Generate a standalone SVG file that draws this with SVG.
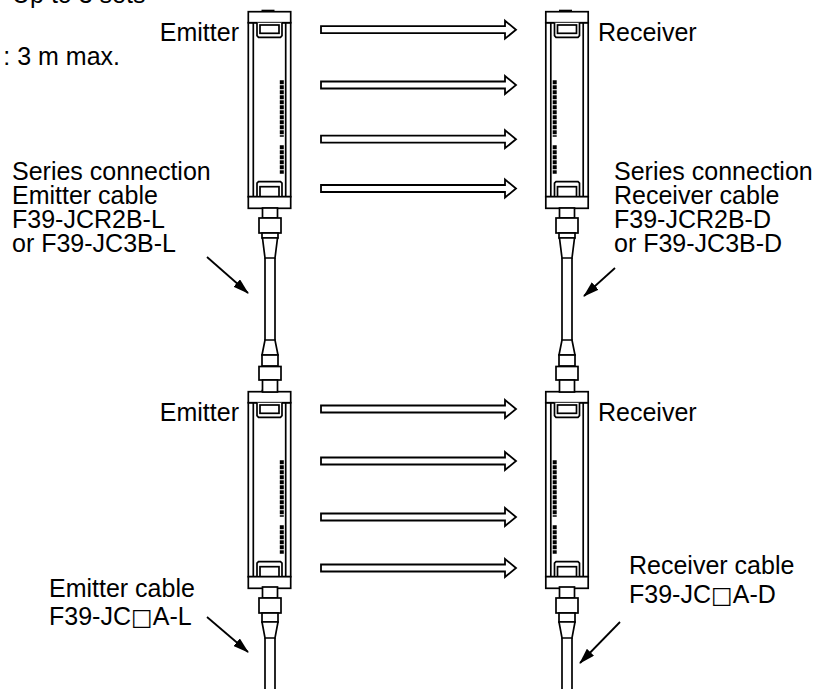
<svg xmlns="http://www.w3.org/2000/svg" width="831" height="689" viewBox="0 0 831 689">
<style>
  .t { font-family: "Liberation Sans", Arial, "DejaVu Sans", sans-serif; font-size: 25px; fill: #000; }
  .sq { font-family: "DejaVu Sans", sans-serif; font-size: 23px; }
  .ln { fill: #fff; stroke: #000; stroke-width: 1.7; stroke-linejoin: miter; }
  .ln0 { fill: none; stroke: #000; stroke-width: 1.7; }
  .beam { fill: #fff; stroke: #000; stroke-width: 1.8; stroke-linejoin: miter; }
  .lead { fill: none; stroke: #000; stroke-width: 1.8; }
  .led { fill: none; stroke: #000; stroke-width: 4; stroke-dasharray: 4 1; }
</style>
<defs>
  <marker id="ah" markerUnits="userSpaceOnUse" viewBox="0 0 16 10" refX="15" refY="5" markerWidth="16" markerHeight="10" orient="auto">
    <path d="M0,0 L16,5 L0,10 z" fill="#000"/>
  </marker>
  <g id="sensor">
    <rect class="ln" x="-21.2" y="11" width="42.4" height="174"/>
    <line class="ln0" x1="-16.2" y1="11" x2="-16.2" y2="185"/>
    <line class="ln0" x1="16.2" y1="11" x2="16.2" y2="185"/>
    <rect class="ln" x="-21.2" y="0" width="42.4" height="11"/>
    <rect x="-8" y="-2" width="13" height="2" fill="#000"/>
    <path class="ln" d="M-12.5,11 V24 L-11,25.6 H11 L12.5,24 V11"/>
    <rect class="ln" x="-9.5" y="13.3" width="19" height="8.3"/>
    <path class="ln" d="M-12.5,185 V171.5 L-11,170 H11 L12.5,171.5 V185"/>
    <rect class="ln" x="-9.5" y="175" width="19" height="10"/>
    <rect class="ln" x="-21.2" y="185" width="42.4" height="11.6"/>
  </g>
  <g id="ledsE">
    <line class="led" x1="12.3" y1="68.5" x2="12.3" y2="125"/>
    <line class="led" x1="12.3" y1="133.5" x2="12.3" y2="162"/>
  </g>
  <g id="ledsR">
    <line class="led" x1="-12.3" y1="68.5" x2="-12.3" y2="125"/>
    <line class="led" x1="-12.3" y1="133.5" x2="-12.3" y2="162"/>
  </g>
  <g id="midcable">
    <rect class="ln" x="-7.5" y="208" width="15" height="10"/>
    <rect class="ln" x="-11" y="218" width="22" height="15"/>
    <rect class="ln" x="-8" y="233" width="16" height="5"/>
    <path class="ln" d="M-7.5,238 H7.5 L5,258 H-5 z"/>
    <line class="ln0" x1="-5" y1="258" x2="-5" y2="340"/>
    <line class="ln0" x1="5" y1="258" x2="5" y2="340"/>
    <path class="ln" d="M-5,340 H5 L8,355 H-8 z"/>
    <rect class="ln" x="-8" y="355" width="16" height="11"/>
    <rect class="ln" x="-11" y="366.5" width="22" height="13.5"/>
    <rect class="ln" x="-7.5" y="380" width="15" height="12"/>
  </g>
  <g id="endcable">
    <rect class="ln" x="-7.5" y="587" width="15" height="11"/>
    <rect class="ln" x="-11" y="598" width="22" height="15"/>
    <rect class="ln" x="-8" y="613" width="16" height="9"/>
    <path class="ln" d="M-8,622 H8 L5,638 H-5 z"/>
    <line class="ln0" x1="-5" y1="638" x2="-5" y2="692"/>
    <line class="ln0" x1="5" y1="638" x2="5" y2="692"/>
  </g>
</defs>

<text class="t" x="12" y="3">Up to 3 sets</text>
<text class="t" x="120" y="65" text-anchor="end">: 3 m max.</text>

<g id="emitter1">
  <use href="#sensor" transform="translate(269.5,11.7)"/>
  <use href="#ledsE" transform="translate(269.5,11.7)"/>
  <text class="t" x="239" y="41" text-anchor="end">Emitter</text>
</g>
<g id="receiver1">
  <use href="#sensor" transform="translate(567,11.7)"/>
  <use href="#ledsR" transform="translate(567,11.7)"/>
  <text class="t" x="598" y="41">Receiver</text>
</g>
<g id="emitter2">
  <use href="#sensor" transform="translate(269.5,391.7)"/>
  <use href="#ledsE" transform="translate(269.5,391.7)"/>
  <text class="t" x="239" y="421" text-anchor="end">Emitter</text>
</g>
<g id="receiver2">
  <use href="#sensor" transform="translate(567,391.7)"/>
  <use href="#ledsR" transform="translate(567,391.7)"/>
  <text class="t" x="598" y="421">Receiver</text>
</g>

<g id="emitter-series-cable">
  <use href="#midcable" transform="translate(270,0)"/>
  <text class="t" x="12" y="180">Series connection</text>
  <text class="t" x="12" y="204">Emitter cable</text>
  <text class="t" x="12" y="228">F39-JCR2B-L</text>
  <text class="t" x="12" y="252">or F39-JC3B-L</text>
</g>
<g id="receiver-series-cable">
  <use href="#midcable" transform="translate(567,0)"/>
  <text class="t" x="614" y="180">Series connection</text>
  <text class="t" x="614" y="204">Receiver cable</text>
  <text class="t" x="614" y="228">F39-JCR2B-D</text>
  <text class="t" x="614" y="252">or F39-JC3B-D</text>
</g>
<g id="emitter-cable">
  <use href="#endcable" transform="translate(270,0)"/>
  <text class="t" x="49" y="597">Emitter cable</text>
  <text class="t" x="49" y="625">F39-JC<tspan class="sq">□</tspan>A-L</text>
</g>
<g id="receiver-cable">
  <use href="#endcable" transform="translate(567,0)"/>
  <text class="t" x="629" y="574">Receiver cable</text>
  <text class="t" x="629" y="603">F39-JC<tspan class="sq">□</tspan>A-D</text>
</g>

<g id="connectors">
  <path class="beam" d="M321,26.2 H505 V20.7 L516,29.7 L505,38.7 V33.2 H321 z"/>
  <path class="beam" d="M321,81.5 H505 V76 L516,85 L505,94 V88.5 H321 z"/>
  <path class="beam" d="M321,135.7 H505 V130.2 L516,139.2 L505,148.2 V142.7 H321 z"/>
  <path class="beam" d="M321,185 H505 V179.5 L516,188.5 L505,197.5 V192 H321 z"/>
  <path class="beam" d="M321,405.5 H505 V400 L516,409 L505,418 V412.5 H321 z"/>
  <path class="beam" d="M321,457.5 H505 V452 L516,461 L505,470 V464.5 H321 z"/>
  <path class="beam" d="M321,513.5 H505 V508 L516,517 L505,526 V520.5 H321 z"/>
  <path class="beam" d="M321,564.5 H505 V559 L516,568 L505,577 V571.5 H321 z"/>
  <line class="lead" x1="207" y1="257" x2="248" y2="293" marker-end="url(#ah)"/>
  <line class="lead" x1="615" y1="268" x2="584" y2="296" marker-end="url(#ah)"/>
  <line class="lead" x1="207" y1="617" x2="248" y2="652" marker-end="url(#ah)"/>
  <line class="lead" x1="620" y1="622" x2="580" y2="663" marker-end="url(#ah)"/>
</g>
</svg>
